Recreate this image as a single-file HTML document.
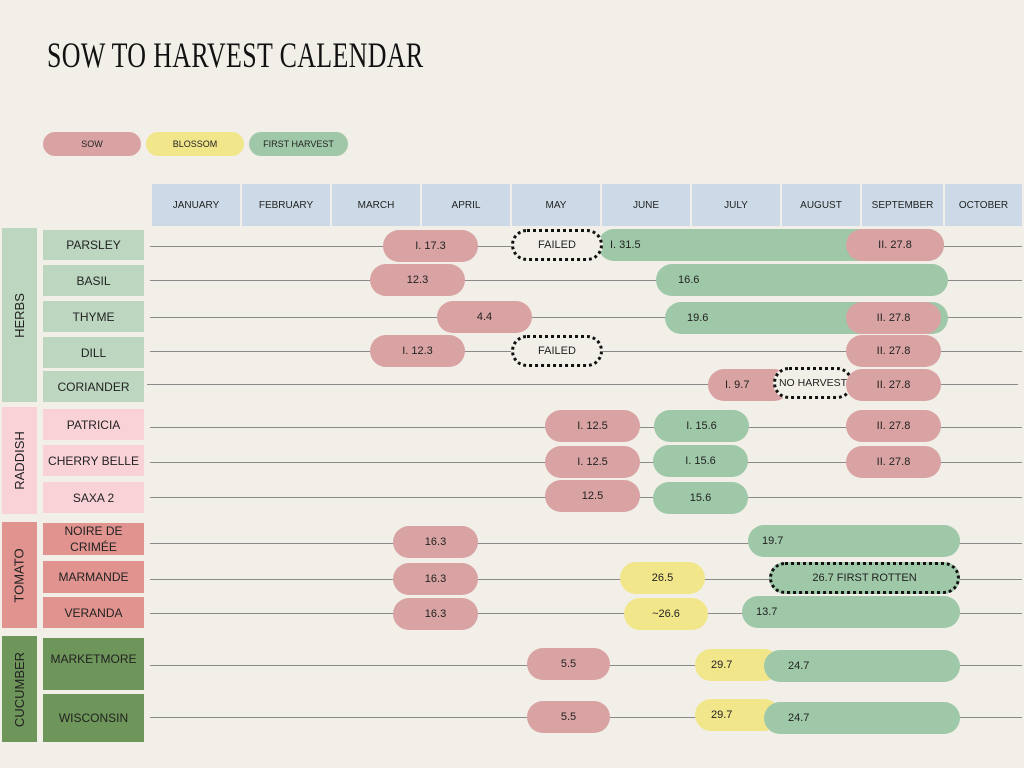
<!DOCTYPE html>
<html><head><meta charset="utf-8"><style>
body{margin:0;width:1024px;height:768px;background:#f2efe9;position:relative;overflow:hidden;font-family:"Liberation Sans",sans-serif;color:#222}
div{position:absolute;box-sizing:border-box}
.t{left:47px;top:34px;font-family:"Liberation Serif",serif;font-size:36px;transform:scaleX(0.72);transform-origin:left top;white-space:nowrap;color:#111;letter-spacing:0.5px}
.lg{height:24px;border-radius:12px;font-size:9px;display:flex;align-items:center;justify-content:center}
.m{top:184px;height:42px;background:#cbdae6;font-size:10px;display:flex;align-items:center;justify-content:center}
.c{left:2px;width:35px;display:flex;align-items:center;justify-content:center}
.c span{transform:rotate(-90deg);white-space:nowrap;font-size:13px}
.v{left:43px;width:101px;font-size:12px;display:flex;align-items:center;justify-content:center;text-align:center;line-height:16px}
.l{left:150px;right:2px;height:1px;background:#8a8a8a}
.p{height:32px;border-radius:16px;font-size:11px;display:flex;align-items:center;justify-content:center}
.s{background:#d9a3a3}.b{background:#f2e68a}.h{background:#9fc8a8}
.h.lt{justify-content:flex-start;padding-left:22px}
.d{border:3px dotted #111;background:#f2efe9}
</style></head><body>
<div class="t">SOW TO HARVEST CALENDAR</div>
<div class="lg s" style="left:43px;top:132px;width:98px">SOW</div>
<div class="lg b" style="left:146px;top:132px;width:98px">BLOSSOM</div>
<div class="lg h" style="left:249px;top:132px;width:99px">FIRST HARVEST</div>

<div class="m" style="left:152px;width:88px">JANUARY</div>
<div class="m" style="left:242px;width:88px">FEBRUARY</div>
<div class="m" style="left:332px;width:88px">MARCH</div>
<div class="m" style="left:422px;width:88px">APRIL</div>
<div class="m" style="left:512px;width:88px">MAY</div>
<div class="m" style="left:602px;width:88px">JUNE</div>
<div class="m" style="left:692px;width:88px">JULY</div>
<div class="m" style="left:782px;width:78px">AUGUST</div>
<div class="m" style="left:862px;width:81px">SEPTEMBER</div>
<div class="m" style="left:945px;width:77px">OCTOBER</div>

<div class="c" style="top:228px;height:174px;background:#bcd6c0"><span>HERBS</span></div>
<div class="c" style="top:407px;height:107px;background:#f9d2d8"><span>RADDISH</span></div>
<div class="c" style="top:522px;height:106px;background:#e0938f"><span>TOMATO</span></div>
<div class="c" style="top:636px;height:106px;background:#6e955a"><span>CUCUMBER</span></div>

<div class="v" style="top:230px;height:30px;background:#bcd6c0">PARSLEY</div>
<div class="v" style="top:265px;height:31px;background:#bcd6c0">BASIL</div>
<div class="v" style="top:301px;height:31px;background:#bcd6c0">THYME</div>
<div class="v" style="top:337px;height:31px;background:#bcd6c0">DILL</div>
<div class="v" style="top:371px;height:31px;background:#bcd6c0">CORIANDER</div>
<div class="v" style="top:409px;height:31px;background:#f9d2d8">PATRICIA</div>
<div class="v" style="top:445px;height:31px;background:#f9d2d8">CHERRY BELLE</div>
<div class="v" style="top:482px;height:31px;background:#f9d2d8">SAXA 2</div>
<div class="v" style="top:523px;height:32px;background:#e0938f">NOIRE DE<br>CRIMÉE</div>
<div class="v" style="top:561px;height:32px;background:#e0938f">MARMANDE</div>
<div class="v" style="top:597px;height:31px;background:#e0938f">VERANDA</div>
<div class="v" style="top:638px;height:52px;background:#6e955a;align-items:flex-start;padding-top:13px">MARKETMORE</div>
<div class="v" style="top:694px;height:48px;background:#6e955a">WISCONSIN</div>

<div class="l" style="top:246px"></div>
<div class="l" style="top:280px"></div>
<div class="l" style="top:317px"></div>
<div class="l" style="top:351px"></div>
<div class="l" style="top:384px;left:147px;right:6px"></div>
<div class="l" style="top:427px"></div>
<div class="l" style="top:462px"></div>
<div class="l" style="top:497px"></div>
<div class="l" style="top:543px"></div>
<div class="l" style="top:579px"></div>
<div class="l" style="top:613px"></div>
<div class="l" style="top:665px"></div>
<div class="l" style="top:717px"></div>

<!-- parsley -->
<div class="p s" style="left:383px;top:230px;width:95px">I. 17.3</div>
<div class="p h lt" style="left:598px;top:229px;width:346px;padding-left:12px">I. 31.5</div>
<div class="p d" style="left:511px;top:229px;width:92px">FAILED</div>
<div class="p s" style="left:846px;top:229px;width:98px">II. 27.8</div>
<!-- basil -->
<div class="p s" style="left:370px;top:264px;width:95px">12.3</div>
<div class="p h lt" style="left:656px;top:264px;width:292px">16.6</div>
<!-- thyme -->
<div class="p s" style="left:437px;top:301px;width:95px">4.4</div>
<div class="p h lt" style="left:665px;top:302px;width:283px">19.6</div>
<div class="p s" style="left:846px;top:302px;width:95px">II. 27.8</div>
<!-- dill -->
<div class="p s" style="left:370px;top:335px;width:95px">I. 12.3</div>
<div class="p d" style="left:511px;top:335px;width:92px">FAILED</div>
<div class="p s" style="left:846px;top:335px;width:95px">II. 27.8</div>
<!-- coriander -->
<div class="p s" style="left:708px;top:369px;width:82px;justify-content:flex-start;padding-left:17px">I. 9.7</div>
<div class="p d" style="left:773px;top:367px;width:80px;font-size:10.5px">NO HARVEST</div>
<div class="p s" style="left:846px;top:369px;width:95px">II. 27.8</div>
<!-- patricia -->
<div class="p s" style="left:545px;top:410px;width:95px">I. 12.5</div>
<div class="p h" style="left:654px;top:410px;width:95px">I. 15.6</div>
<div class="p s" style="left:846px;top:410px;width:95px">II. 27.8</div>
<!-- cherry -->
<div class="p s" style="left:545px;top:446px;width:95px">I. 12.5</div>
<div class="p h" style="left:653px;top:445px;width:95px">I. 15.6</div>
<div class="p s" style="left:846px;top:446px;width:95px">II. 27.8</div>
<!-- saxa -->
<div class="p s" style="left:545px;top:480px;width:95px">12.5</div>
<div class="p h" style="left:653px;top:482px;width:95px">15.6</div>
<!-- noire -->
<div class="p s" style="left:393px;top:526px;width:85px">16.3</div>
<div class="p h lt" style="left:748px;top:525px;width:212px;padding-left:14px">19.7</div>
<!-- marmande -->
<div class="p s" style="left:393px;top:563px;width:85px">16.3</div>
<div class="p b" style="left:620px;top:562px;width:85px">26.5</div>
<div class="p h d" style="left:769px;top:562px;width:191px;background:#9fc8a8">26.7 FIRST ROTTEN</div>
<!-- veranda -->
<div class="p s" style="left:393px;top:598px;width:85px">16.3</div>
<div class="p b" style="left:624px;top:598px;width:84px">~26.6</div>
<div class="p h lt" style="left:742px;top:596px;width:218px;padding-left:14px">13.7</div>
<!-- marketmore -->
<div class="p s" style="left:527px;top:648px;width:83px">5.5</div>
<div class="p b" style="left:695px;top:649px;width:85px;justify-content:flex-start;padding-left:16px">29.7</div>
<div class="p h lt" style="left:764px;top:650px;width:196px;padding-left:24px">24.7</div>
<!-- wisconsin -->
<div class="p s" style="left:527px;top:701px;width:83px">5.5</div>
<div class="p b" style="left:695px;top:699px;width:85px;justify-content:flex-start;padding-left:16px">29.7</div>
<div class="p h lt" style="left:764px;top:702px;width:196px;padding-left:24px">24.7</div>
</body></html>
